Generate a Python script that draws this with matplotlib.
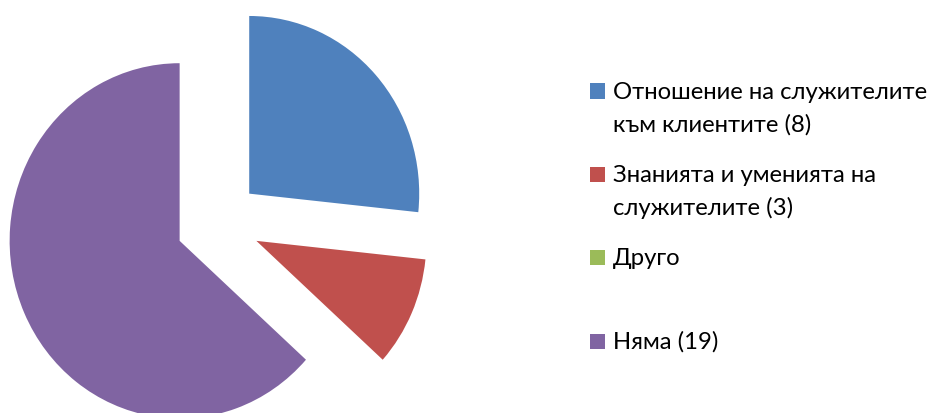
import matplotlib
matplotlib.use('Agg')
import matplotlib.pyplot as plt
from matplotlib.patches import Rectangle

labels = ['Отношение на служителите\nкъм клиентите (8)',
          'Знанията и уменията на\nслужителите (3)',
          'Друго',
          'Няма (19)']
values = [8, 3, 0, 19]
colors = ['#4F81BD', '#C0504D', '#9BBB59', '#8064A2']
legend_y = [92, 175, 258, 342]  # pixel centre of each legend square (from top)

plt.rcParams['font.family'] = ['Lato', 'Open Sans', 'DejaVu Sans']

W, H = 931, 414
ky = 1.045  # pie is a bit taller than wide in the original
fig = plt.figure(figsize=(W / 100, H / 100), dpi=100)
ax = fig.add_axes([0, 0, 1, 1])

# pie in pixel units, every slice pulled out (explode is in data units here)
ax.pie(values, colors=colors, startangle=90, counterclock=False,
       center=(218, (H - 224) / ky), radius=170, explode=[42] * len(values),
       wedgeprops=dict(linewidth=0), frame=True)
ax.set_xlim(0, W)
ax.set_ylim(0, H / ky)
ax.set_aspect('auto')
ax.axis('off')

# legend drawn by hand
for lab, col, yc in zip(labels, colors, legend_y):
    ax.add_patch(Rectangle((590, (H - yc - 7.5) / ky), 15, 15 / ky, color=col, lw=0))
    for i, line in enumerate(lab.split('\n')):
        ax.text(613, (H - (yc + 7 + i * 33)) / ky, line, fontsize=17.2,
                va='baseline', ha='left', color='black')

fig.savefig('out.png', dpi=100)
